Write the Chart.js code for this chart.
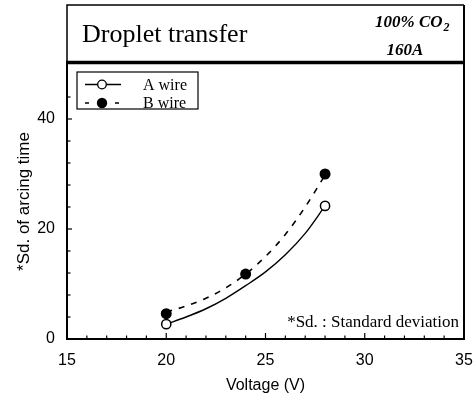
<!DOCTYPE html>
<html>
<head>
<meta charset="utf-8">
<script src="https://cdn.jsdelivr.net/npm/chart.js@4.4.1/dist/chart.umd.min.js"></script>
<style>
  html, body { margin: 0; padding: 0; background: #fff; }
  #wrap { width: 476px; height: 403px; position: relative; }
</style>
</head>
<body>
<div id="wrap"><canvas id="c" width="476" height="403"></canvas></div>
<script>
// ---- data ----
const aWireVoltage = [20, 28];
const aWireSd = [2.7, 24.2];
const bWireVoltage = [20, 24, 28];
const bWireSd = [4.6, 11.8, 30.0];
// fitted curves
const fitVoltage = [20, 21, 22, 23, 24, 25, 26, 27, 28];
const aFitSd = [2.7, 4.0, 5.5, 7.4, 9.7, 12.2, 15.3, 19.2, 24.2];
const bFitSd = [4.9, 6.0, 7.4, 9.3, 11.8, 15.0, 19.0, 24.0, 29.8];
const xTickLabels = [15, 20, 25, 30, 35];
const yTickLabels = [0, 20, 40];

const titleText = 'Droplet transfer';
const condText1 = '100% CO';
const condSub = '2';
const condText2 = '160A';
const noteText = '*Sd. : Standard deviation';
const legendLabels = ['A wire', 'B wire'];

const SERIF = '"Liberation Serif", "Times New Roman", serif';
const SANS = '"Liberation Sans", Arial, sans-serif';

const pts = (xs, ys) => xs.map((x, i) => ({ x: x, y: ys[i] }));

const decor = {
  id: 'decor',
  afterDraw(chart) {
    const ctx = chart.ctx;
    const a = chart.chartArea;
    const xs = chart.scales.x, ys = chart.scales.y;
    ctx.save();
    ctx.strokeStyle = '#000';
    ctx.fillStyle = '#000';
    // title box
    ctx.lineWidth = 1.5;
    ctx.beginPath();
    ctx.moveTo(a.left, a.top);
    ctx.lineTo(a.left, 5);
    ctx.lineTo(a.right, 5);
    ctx.stroke();
    ctx.lineWidth = 2;
    ctx.beginPath();
    ctx.moveTo(a.right, 5); ctx.lineTo(a.right, a.bottom + 1);
    ctx.stroke();
    // thick separator
    ctx.lineWidth = 3.5;
    ctx.beginPath();
    ctx.moveTo(a.left - 1, a.top - 1.5);
    ctx.lineTo(a.right + 1, a.top - 1.5);
    ctx.stroke();
    // inward ticks on x axis
    ctx.lineWidth = 1.2;
    xs.ticks.forEach(t => {
      const v = t.value;
      if (v <= xs.min || v >= xs.max) return;
      const px = xs.getPixelForValue(v);
      const len = (v % 5 === 0) ? 6 : 3.5;
      ctx.beginPath();
      ctx.moveTo(px, a.bottom);
      ctx.lineTo(px, a.bottom - len);
      ctx.stroke();
    });
    // inward ticks on y axis
    ys.ticks.forEach(t => {
      const v = t.value;
      if (v <= ys.min || v >= ys.max) return;
      const py = ys.getPixelForValue(v);
      const len = (v % 20 === 0) ? 5 : 3.5;
      ctx.beginPath();
      ctx.moveTo(a.left, py);
      ctx.lineTo(a.left + len, py);
      ctx.stroke();
    });
    // title texts
    ctx.textBaseline = 'alphabetic';
    ctx.textAlign = 'left';
    ctx.font = '26px ' + SERIF;
    ctx.fillText(titleText, 82, 42);
    ctx.font = 'italic bold 17px ' + SERIF;
    ctx.fillText(condText1, 375, 27);
    const w1 = ctx.measureText(condText1).width;
    ctx.font = 'italic bold 12px ' + SERIF;
    ctx.fillText(condSub, 375 + w1 + 1, 31);
    ctx.font = 'italic bold 17px ' + SERIF;
    ctx.textAlign = 'center';
    ctx.fillText(condText2, 405, 55);
    // footnote
    ctx.textAlign = 'right';
    ctx.font = '17px ' + SERIF;
    ctx.fillText(noteText, 459, 327);
    // legend
    ctx.lineWidth = 1.2;
    ctx.strokeRect(77, 72, 121, 37);
    ctx.textAlign = 'left';
    ctx.textBaseline = 'middle';
    ctx.font = '16px ' + SERIF;
    const r1 = 84.5, r2 = 103;
    ctx.lineWidth = 1.3;
    ctx.beginPath(); ctx.moveTo(85, r1); ctx.lineTo(121, r1); ctx.stroke();
    ctx.beginPath(); ctx.arc(102, r1, 4.3, 0, Math.PI * 2);
    ctx.fillStyle = '#fff'; ctx.fill(); ctx.stroke();
    ctx.fillStyle = '#000';
    ctx.fillText(legendLabels[0], 143, r1 + 1);
    ctx.beginPath(); ctx.moveTo(85, r2); ctx.lineTo(89, r2); ctx.moveTo(115, r2); ctx.lineTo(119, r2); ctx.stroke();
    ctx.beginPath(); ctx.arc(102, r2, 5.2, 0, Math.PI * 2); ctx.fill();
    ctx.fillText(legendLabels[1], 143, r2 + 1);
    ctx.restore();
  }
};

new Chart(document.getElementById('c'), {
  type: 'scatter',
  data: {
    datasets: [
      {
        label: 'A fit', data: pts(fitVoltage, aFitSd), showLine: true,
        borderColor: '#000', borderWidth: 1.4, pointRadius: 0, fill: false,
        cubicInterpolationMode: 'monotone', order: 4
      },
      {
        label: 'B fit', data: pts(fitVoltage, bFitSd), showLine: true,
        borderColor: '#000', borderWidth: 1.6, borderDash: [6, 7], pointRadius: 0, fill: false,
        cubicInterpolationMode: 'monotone', order: 3
      },
      {
        label: legendLabels[0], data: pts(aWireVoltage, aWireSd), showLine: false,
        pointStyle: 'circle', pointRadius: 4.6, pointBackgroundColor: '#fff',
        pointBorderColor: '#000', pointBorderWidth: 1.5, order: 1
      },
      {
        label: legendLabels[1], data: pts(bWireVoltage, bWireSd), showLine: false,
        pointStyle: 'circle', pointRadius: 5.5, pointBackgroundColor: '#000',
        pointBorderColor: '#000', pointBorderWidth: 0, order: 2
      }
    ]
  },
  options: {
    responsive: false,
    animation: false,
    events: [],
    layout: { padding: { top: 64, right: 12, left: 0, bottom: 0 } },
    plugins: { legend: { display: false }, tooltip: { enabled: false }, title: { display: false } },
    scales: {
      x: {
        type: 'linear', min: 15, max: 35,
        afterFit: s => { s.height = 64; s.paddingRight = 0; s.paddingLeft = 0; },
        border: { display: true, color: '#000', width: 2 },
        grid: { display: false, drawTicks: false },
        ticks: {
          stepSize: 1, autoSkip: false, maxRotation: 0, padding: 12,
          color: '#000', font: { family: SANS, size: 16 },
          callback: v => xTickLabels.includes(v) ? String(v) : ''
        },
        title: { display: true, text: 'Voltage (V)', color: '#000',
          font: { family: SANS, size: 16 }, padding: { top: 0, bottom: 8 } }
      },
      y: {
        type: 'linear', min: 0, max: 50,
        afterFit: s => { s.width = 67; s.paddingTop = 0; s.paddingBottom = 0; },
        border: { display: true, color: '#000', width: 2 },
        grid: { display: false, drawTicks: false },
        ticks: {
          stepSize: 4, autoSkip: false, padding: 12,
          color: '#000', font: { family: SANS, size: 16 },
          callback: v => yTickLabels.includes(v) ? String(v) : ''
        },
        title: { display: true, text: '*Sd. of arcing time', color: '#000',
          font: { family: SANS, size: 17 }, padding: { top: 14, bottom: 0 } }
      }
    }
  },
  plugins: [decor]
});
</script>
</body>
</html>
